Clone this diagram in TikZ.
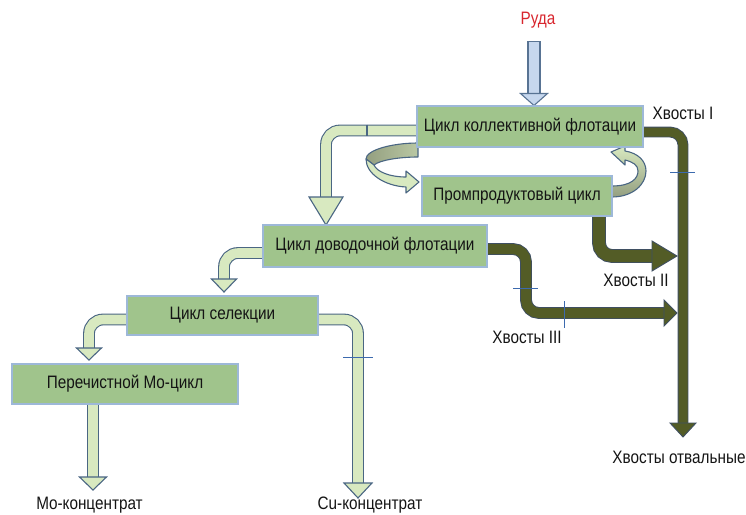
\documentclass[tikz,border=0pt]{standalone}
\usepackage{fontspec}
\setmainfont{Liberation Sans}[FakeStretch=0.85]
\usepackage{tikz}
\usetikzlibrary{calc,positioning,backgrounds}
\definecolor{boxgreen}{HTML}{A0C48C}
\definecolor{boxedge}{HTML}{9DB8D8}
\definecolor{pipelight}{HTML}{D8E9C0}
\definecolor{pipeedge}{HTML}{4A6683}
\definecolor{pipedark}{HTML}{535C26}
\definecolor{darkedge}{HTML}{3F4F62}
\definecolor{orefill}{HTML}{C6D7EE}
\definecolor{oreedge}{HTML}{587393}
\definecolor{orered}{HTML}{D8262E}
\definecolor{tickblue}{HTML}{3C6AAE}
\definecolor{ribbondark}{HTML}{949F80}

% arrow heads: style, tip, half width, length
\newcommand{\headdown}[4]{\draw[#1] (#2) -- ++(-#3,-#4) -- ++(2*#3,0) -- cycle;}
\newcommand{\headright}[4]{\draw[#1] (#2) -- ++(-#4,-#3) -- ++(0,2*#3) -- cycle;}

\begin{document}
\begin{tikzpicture}[x=1pt,y=-1pt,
  every node/.style={font=\fontsize{18}{21}\selectfont, text=black!92},
  stagebox/.style={draw=boxedge, fill=boxgreen, line width=1.2pt, inner sep=0pt},
  lightpipe/.style={draw=pipeedge, line width=1.1pt, double=pipelight, double distance=9.6pt, rounded corners=14pt},
  lighthead/.style={draw=pipeedge, fill=pipelight, line width=1.1pt, line join=miter},
  darkpipe/.style={draw=darkedge, line width=0.9pt, double=pipedark, double distance=#1, rounded corners=13pt},
  darkpipe/.default=9pt,
  darkhead/.style={draw=darkedge, fill=pipedark, line width=0.9pt, line join=miter},
  orebody/.style={draw=oreedge, fill=orefill, line width=1.1pt, line join=miter},
  ribbon/.style={draw=pipeedge, line width=1.1pt, line join=round},
  cutmark/.style={draw=tickblue, line width=1pt}]
  \useasboundingbox (0,0) rectangle (746,514);

  % stages
  \node[stagebox, minimum width=226pt, minimum height=41pt] (kol) at (530,126.5) {Цикл коллективной флотации};
  \node[stagebox, minimum width=190pt, minimum height=40pt] (prom) at (517,196) {Промпродуктовый цикл};
  \node[stagebox, minimum width=224pt, minimum height=42pt] (dov) at (375,246) {Цикл доводочной флотации};
  \node[stagebox, minimum width=191pt, minimum height=39pt] (sel) at (222.5,315.5) {Цикл селекции};
  \node[stagebox, minimum width=226pt, minimum height=40pt] (pmo) at (125,384) {Перечистной Mo-цикл};

  % labels
  \node[text=orered] (ore) at (538,20) {Руда};
  \node (tailsI) at (683,113) {Хвосты I};
  \node (tailsII) at (636,280) {Хвосты II};
  \node (tailsIII) at (527,337) {Хвосты III};
  \node (waste) at (679,457) {Хвосты отвальные};
  \node (moconc) at (89.5,505) {Mo-концентрат};
  \node (cuconc) at (370,505) {Cu-концентрат};

  % arrow tips
  \coordinate (oreTip) at (534,105.5);
  \coordinate (kdTip) at (326,225);
  \coordinate (dsTip) at (224,292);
  \coordinate (smTip) at (89,360);
  \coordinate (cuTip) at (358,498);
  \coordinate (moTip) at (93,490);
  \coordinate (wasteTip) at (683,437);
  \coordinate (tipII) at (677,256);
  \coordinate (tipIII) at (677,313);

  \begin{scope}[on background layer]
    % ore feed
    \draw[orebody] ($(oreTip)+(-6,-64)$) rectangle ($(oreTip)+(6,-10)$);
    \headdown{orebody}{oreTip}{13.5}{12}

    % tailings
    \draw[darkpipe] ($(kol.east)+(-2,5.5)$) -| ($(wasteTip)+(0,-12)$);
    \headdown{darkhead}{wasteTip}{13}{14}
    \draw[darkpipe=12pt] ($(prom.south)+(82,-2)$) |- ($(tipII)+(-23,0)$);
    \headright{darkhead}{tipII}{15}{25}
    \draw[darkpipe=10pt] ($(dov.east)+(-2,3)$) -| (526,280) |- ($(tipIII)+(-11,0)$);
    \headright{darkhead}{tipIII}{13}{13}

    % concentrate
    \draw[lightpipe] ($(kol.west)+(2,4)$) -| ($(kdTip)+(0,-26)$);
    \headdown{lighthead}{kdTip}{17}{28}
    \draw[pipeedge, line width=1.1pt] (367,124.6) -- (367,136.4);
    \draw[lightpipe] ($(dov.west)+(2,7)$) -| ($(dsTip)+(0,-11)$);
    \headdown{lighthead}{dsTip}{12.5}{13}
    \draw[lightpipe] ($(sel.west)+(2,4)$) -| ($(smTip)+(0,-10)$);
    \headdown{lighthead}{smTip}{12.5}{12}
    \draw[lightpipe] ($(sel.east)+(-2,4)$) -| ($(cuTip)+(0,-13)$);
    \headdown{lighthead}{cuTip}{14}{15}
    \draw[lightpipe] ($(pmo.south)+(-32,-2)$) -- ($(moTip)+(0,-11)$);
    \headdown{lighthead}{moTip}{13.5}{13}

    % middlings loop
    \draw[ribbon, left color=ribbondark, right color=pipelight!55!ribbondark]
      (418,143) .. controls (392,143) and (366,150) .. (366,159) -- (374,165)
      .. controls (380,160) and (400,157) .. (418,157) -- cycle;
    \draw[ribbon, fill=pipelight]
      (366,159) .. controls (366,174) and (385,186) .. (406,187) -- (406,193) -- (419,182)
      -- (406,171) -- (406,177) .. controls (390,177) and (377,172) .. (374,165) -- cycle;
    \draw[ribbon, top color=pipelight, bottom color=ribbondark]
      (612,186) .. controls (632,186) and (638,178) .. (638,171)
      .. controls (638,165) and (633,162) .. (625,160) -- (625,165) -- (611,152)
      -- (625,146) -- (625,151) .. controls (638,153) and (646,161) .. (646,171)
      .. controls (646,185) and (632,197) .. (612,197) -- cycle;

    \foreach \a/\b in {{670,172}/{695,172}, {513,288}/{538,288}, {564,301}/{564,328}, {343,357}/{373,357}}
      \draw[cutmark] (\a) -- (\b);
  \end{scope}
\end{tikzpicture}
\end{document}
